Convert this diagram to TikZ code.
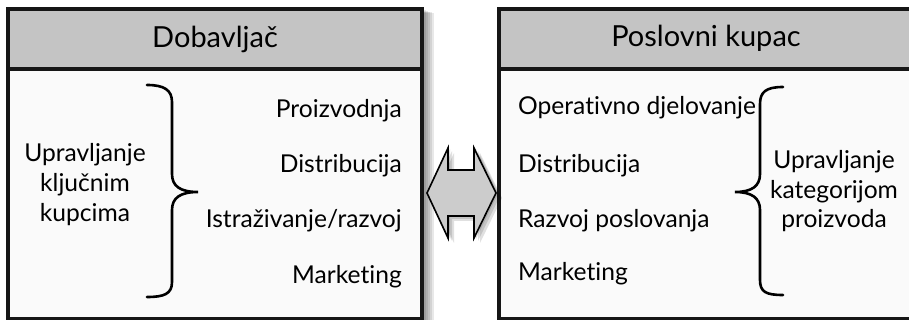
\documentclass[tikz,border=0pt]{standalone}
\usepackage{fontspec}
\setmainfont{Lato}[Ligatures=NoCommon]
\definecolor{headgray}{HTML}{C4C4C4}
\definecolor{bodywhite}{HTML}{FAFAFA}
\definecolor{edge}{HTML}{161616}
\definecolor{arrowgray}{HTML}{CCCCCC}
\begin{document}
\begin{tikzpicture}[x=1pt,y=-1pt,
  body/.style={fill=bodywhite},
  head/.style={fill=headgray},
  frame/.style={draw=edge,line width=3.6pt},
  brace/.style={draw=black,line width=2.6pt,line cap=round},
  item/.style={inner sep=0pt,font=\fontsize{24.6}{29}\selectfont},
  title/.style={inner sep=0pt,font=\fontsize{29}{34}\selectfont},
  shade/.style={fill=black,opacity=0.09}
]
\useasboundingbox (0,0) rectangle (909,320);
\clip (0,0) rectangle (909,320);
\fill[white] (0,0) rectangle (909,320);
% shadows of left panel
\foreach \d in {0,2,4,6,8} {\fill[shade] (422,{10+\d*0.4}) rectangle ({426+\d},330);}
% left panel
\fill[body] (8,69) rectangle (422,319);
\fill[head] (8,9) rectangle (422,69);
\draw[frame] (8,9) rectangle (422,319);
\draw[frame] (8,69) -- (422,69);
% right panel
\fill[body] (499,69) rectangle (920,319);
\fill[head] (499,9) rectangle (920,69);
\draw[frame] (499,9) rectangle (920,319);
\draw[frame] (499,69) -- (920,69);
% titles
\node[title,anchor=base] (ltitle) at (215,48) {Dobavljač};
\node[title,anchor=base] (rtitle) at (706,47) {Poslovni kupac};
% left items
\node[item,anchor=base east] (l1) at (402,118) {Proizvodnja};
\node[item,anchor=base east] (l2) at (402,173) {Distribucija};
\node[item,anchor=base east] (l3) at (402,228) {Istraživanje/razvoj};
\node[item,anchor=base east] (l4) at (402,283) {Marketing};
\node[item,anchor=base] (lk1) at (85,162) {Upravljanje};
\node[item,anchor=base] (lk2) at (85,192) {ključnim};
\node[item,anchor=base] (lk3) at (85,222) {kupcima};
% right items
\node[item,anchor=base west] (r1) at (518,115) {Operativno djelovanje};
\node[item,anchor=base west] (r2) at (518,173) {Distribucija};
\node[item,anchor=base west] (r3) at (518,227) {Razvoj poslovanja};
\node[item,anchor=base west] (r4) at (518,280) {Marketing};
\node[item,anchor=base] (rk1) at (834,169) {Upravljanje};
\node[item,anchor=base] (rk2) at (834,199) {kategorijom};
\node[item,anchor=base] (rk3) at (834,228) {proizvoda};
% braces
\draw[brace] (147,85) .. controls (164,85) and (172,90) .. (172,102) -- (172,174)
  .. controls (172,186) and (180,192) .. (198,192)
  .. controls (180,192) and (172,198) .. (172,210) -- (172,282)
  .. controls (172,294) and (164,297) .. (147,297);
\draw[brace] (783,87) .. controls (766,87) and (760,92) .. (760,104) -- (760,174)
  .. controls (760,186) and (752,192) .. (735,192)
  .. controls (752,192) and (760,198) .. (760,210) -- (760,280)
  .. controls (760,292) and (766,295) .. (783,295);
% double arrow
\foreach \d in {1,3,5} {
\fill[shade,opacity=0.12] ([shift={(\d+1,\d)}]427,193) -- ++(21,-45) -- ++(0,22) -- ++(26,0) -- ++(0,-22)
  -- ++(22,45) -- ++(-22,45) -- ++(0,-22) -- ++(-26,0) -- ++(0,22) -- cycle;}
\filldraw[fill=arrowgray,draw=black,line width=1.6pt,line join=miter]
  (427,193) -- (448,148) -- (448,170) -- (474,170) -- (474,148) -- (496,193)
  -- (474,238) -- (474,216) -- (448,216) -- (448,238) -- cycle;
\end{tikzpicture}
\end{document}
